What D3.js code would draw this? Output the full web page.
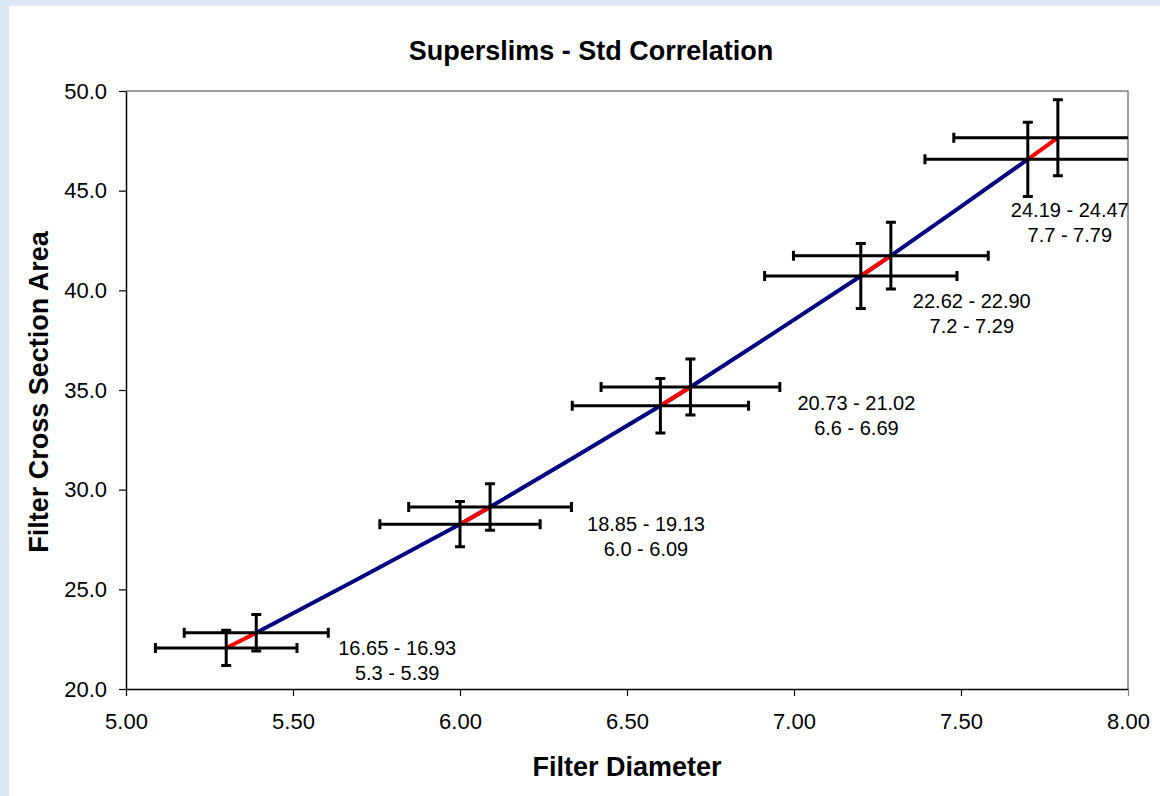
<!DOCTYPE html>
<html>
<head>
<meta charset="utf-8">
<script src="https://cdn.jsdelivr.net/npm/d3@7"></script>
<style>
  html, body { margin: 0; padding: 0; background: #dce8f6; }
  svg { display: block; }
  text { font-family: "Liberation Sans", Arial, sans-serif; fill: #000; }
</style>
</head>
<body>
<svg id="chart" width="1160" height="796"></svg>
<script>
// values
const diameters = [5.3, 5.39, 6.0, 6.09, 6.6, 6.69, 7.2, 7.29, 7.7, 7.79];
const areas = [22.06, 22.82, 28.27, 29.13, 34.21, 35.15, 40.72, 41.74, 46.57, 47.66];
const circumLabels = ["16.65 - 16.93", "18.85 - 19.13", "20.73 - 21.02", "22.62 - 22.90", "24.19 - 24.47"];
const diamLabels = ["5.3 - 5.39", "6.0 - 6.09", "6.6 - 6.69", "7.2 - 7.29", "7.7 - 7.79"];
const errorPct = 0.04;
const xTicks = [5.0, 5.5, 6.0, 6.5, 7.0, 7.5, 8.0];
const yTicks = [20, 25, 30, 35, 40, 45, 50];

const width = 1160;
const height = 796;
const plotLeft = 126, plotRight = 1128, plotTop = 91, plotBottom = 689;
// pixel offsets of each data label from the lower point of its pair
const labelOffsets = [[171, 0], [186, 0], [196, -3], [111, 25], [42, 51]];

const svg = d3.select("#chart");

// white chart area, light blue strip on left and top
svg.append("rect")
  .attr("x", 9).attr("y", 6)
  .attr("width", width - 9).attr("height", height - 6)
  .attr("fill", "#fff");

const xScale = d3.scaleLinear().domain([5, 8]).range([plotLeft, plotRight]);
const yScale = d3.scaleLinear().domain([20, 50]).range([plotBottom, plotTop]);

const points = diameters.map((d, i) => ({ x: d, y: areas[i] }));
const pairs = d3.range(points.length / 2).map((i) => [points[2 * i], points[2 * i + 1]]);

// plot border (gray top/right)
svg.append("path")
  .attr("d", `M${plotLeft},${plotTop}H${plotRight}V${plotBottom}`)
  .attr("fill", "none")
  .attr("stroke", "#808080")
  .attr("stroke-width", 1.5);

const xAxis = d3.axisBottom(xScale)
  .tickValues(xTicks)
  .tickFormat(d3.format(".2f"))
  .tickSizeInner(7).tickSizeOuter(0).tickPadding(17);
svg.append("g")
  .attr("class", "x-axis")
  .attr("transform", `translate(0,${plotBottom})`)
  .call(xAxis);

const yAxis = d3.axisLeft(yScale)
  .tickValues(yTicks)
  .tickFormat(d3.format(".1f"))
  .tickSizeInner(7).tickSizeOuter(0).tickPadding(12);
svg.append("g")
  .attr("class", "y-axis")
  .attr("transform", `translate(${plotLeft},0)`)
  .call(yAxis);

svg.selectAll(".x-axis, .y-axis").selectAll("path.domain")
  .attr("stroke", "#000").attr("stroke-width", 1.5);
svg.selectAll(".x-axis .tick line, .y-axis .tick line")
  .attr("stroke", "#000").attr("stroke-width", 1.2);
svg.selectAll(".x-axis .tick line").filter((d) => d === 8).attr("stroke", "#808080");
svg.selectAll(".x-axis text, .y-axis text")
  .attr("font-size", 22)
  .attr("font-family", "Liberation Sans, Arial, sans-serif")
  .attr("fill", "#000");

// clip for error bars
svg.append("clipPath").attr("id", "plot-clip")
  .append("rect")
  .attr("x", plotLeft).attr("y", plotTop)
  .attr("width", plotRight - plotLeft).attr("height", plotBottom - plotTop);

const plot = svg.append("g").attr("clip-path", "url(#plot-clip)");

// smoothed blue curve through the inner points
const curve = d3.line()
  .x((d) => xScale(d.x))
  .y((d) => yScale(d.y))
  .curve(d3.curveCatmullRom);
plot.append("path")
  .datum(points.slice(1, points.length - 1))
  .attr("d", curve)
  .attr("fill", "none")
  .attr("stroke", "#000080")
  .attr("stroke-width", 4);

// red segment for each pair
plot.selectAll(".pair")
  .data(pairs)
  .join("line")
  .attr("class", "pair")
  .attr("x1", (d) => xScale(d[0].x)).attr("y1", (d) => yScale(d[0].y))
  .attr("x2", (d) => xScale(d[1].x)).attr("y2", (d) => yScale(d[1].y))
  .attr("stroke", "#ff0000")
  .attr("stroke-width", 4);

// error bars
const cap = 5;
const err = plot.selectAll(".err").data(points).join("g").attr("class", "err")
  .attr("stroke", "#000").attr("stroke-width", 3).attr("fill", "none");
err.append("path").attr("d", (d) => {
  const cx = xScale(d.x), cy = yScale(d.y);
  const x0 = xScale(d.x * (1 - errorPct)), x1 = xScale(d.x * (1 + errorPct));
  const y0 = yScale(d.y * (1 - errorPct)), y1 = yScale(d.y * (1 + errorPct));
  return `M${x0},${cy}H${x1}` +
    `M${x0},${cy - cap}V${cy + cap}M${x1},${cy - cap}V${cy + cap}` +
    `M${cx},${y0}V${y1}` +
    `M${cx - cap},${y0}H${cx + cap}M${cx - cap},${y1}H${cx + cap}`;
});

// data labels
const labels = svg.selectAll(".dlabel").data(pairs).join("text")
  .attr("class", "dlabel")
  .attr("text-anchor", "middle")
  .attr("font-size", 20);
labels.append("tspan")
  .attr("x", (d, i) => xScale(d[0].x) + labelOffsets[i][0])
  .attr("y", (d, i) => yScale(d[0].y) + labelOffsets[i][1] + 7)
  .text((d, i) => circumLabels[i]);
labels.append("tspan")
  .attr("x", (d, i) => xScale(d[0].x) + labelOffsets[i][0])
  .attr("y", (d, i) => yScale(d[0].y) + labelOffsets[i][1] + 32)
  .text((d, i) => diamLabels[i]);

// titles
svg.append("text")
  .attr("x", 591).attr("y", 60)
  .attr("text-anchor", "middle")
  .attr("font-size", 27).attr("font-weight", "bold")
  .text("Superslims - Std Correlation");

svg.append("text")
  .attr("x", 627).attr("y", 776)
  .attr("text-anchor", "middle")
  .attr("font-size", 27).attr("font-weight", "bold")
  .text("Filter Diameter");

svg.append("text")
  .attr("transform", "translate(48,392) rotate(-90)")
  .attr("text-anchor", "middle")
  .attr("font-size", 27).attr("font-weight", "bold")
  .text("Filter Cross Section Area");
</script>
</body>
</html>
